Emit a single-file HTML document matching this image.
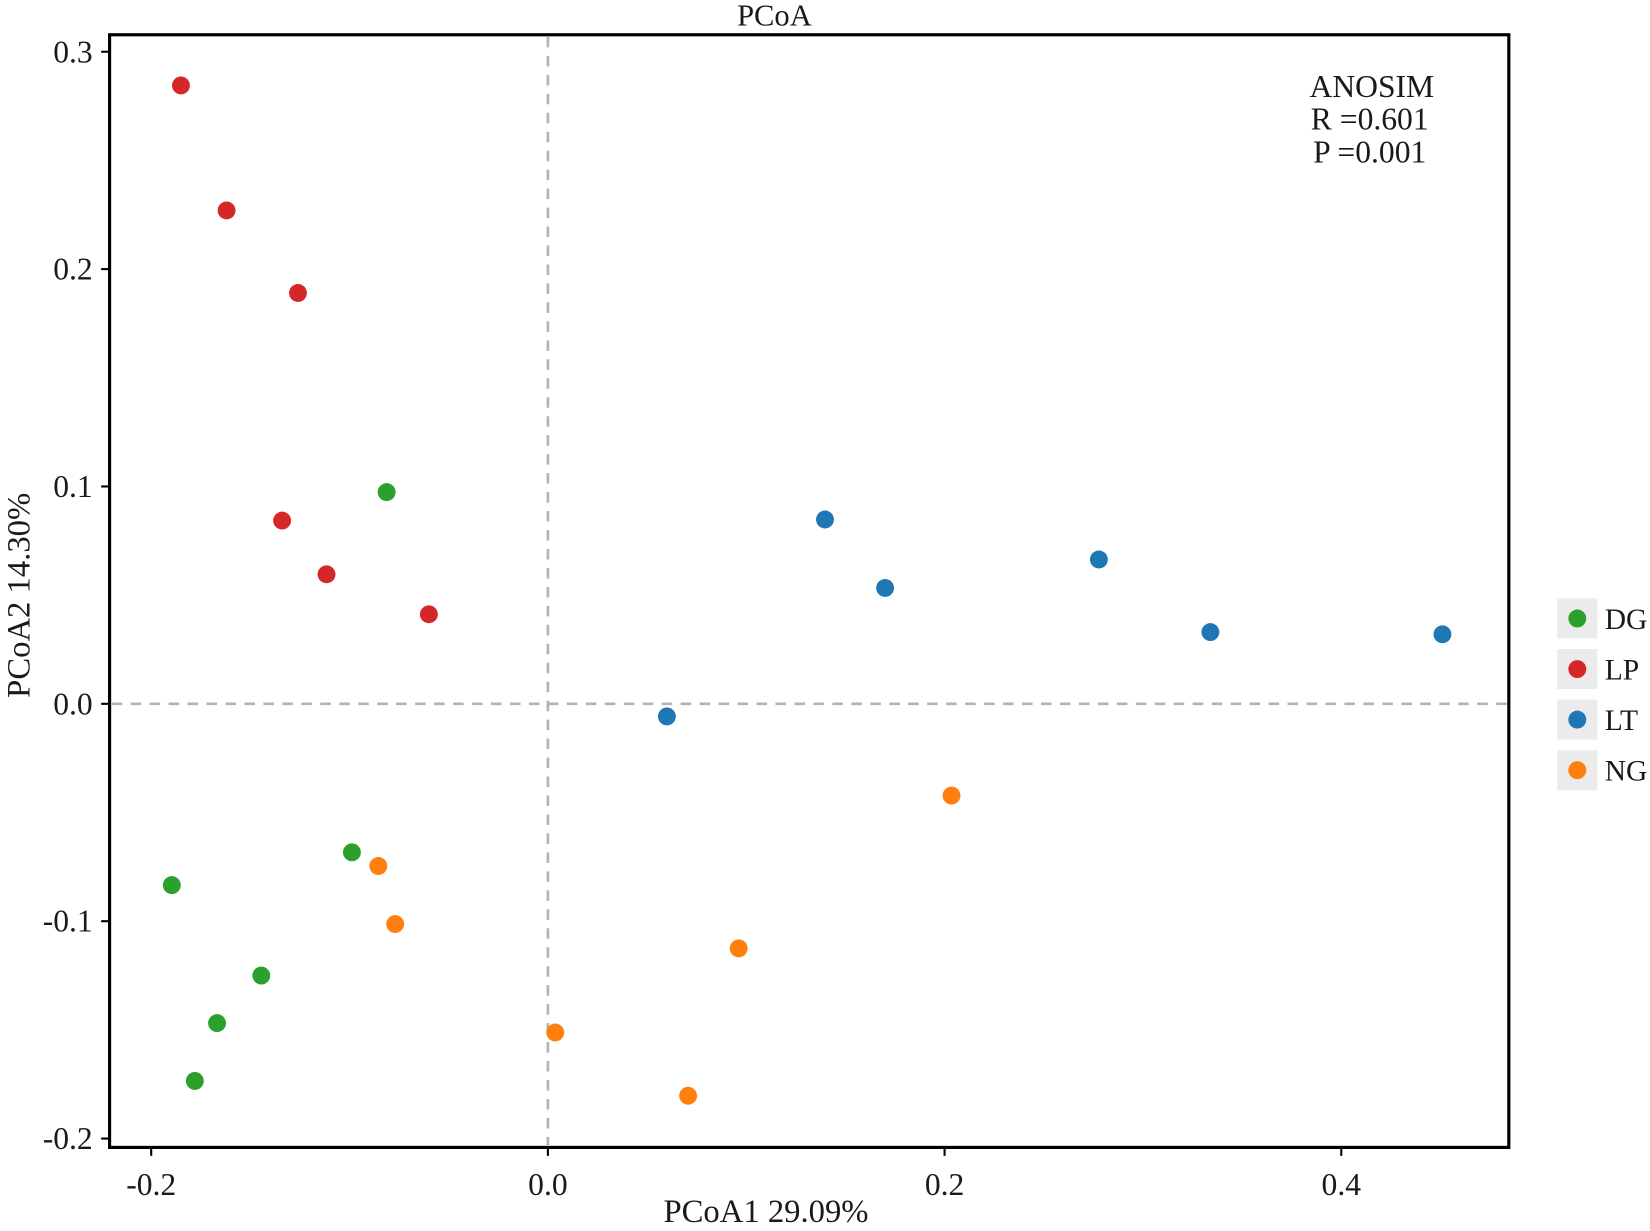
<!DOCTYPE html>
<html><head><meta charset="utf-8"><style>
html,body{margin:0;padding:0;background:#fff;}
svg text{font-family:"Liberation Serif",serif;fill:#1a1a1a;}
</style></head><body>
<svg id="chart" width="1650" height="1226" viewBox="0 0 1650 1226" xmlns="http://www.w3.org/2000/svg">
<g transform="scale(1.05364)">
<g id="grid"></g>
<g id="points"></g>
<rect x="104" y="33" width="1328" height="1056" fill="none" stroke="#000" stroke-width="3"/>
<g id="axes"></g>
<text x="735" y="24" font-size="29" text-anchor="middle">PCoA</text>
<text x="727" y="1160" font-size="31" text-anchor="middle">PCoA1 29.09%</text>
<text transform="translate(28,565) rotate(-90)" font-size="31" text-anchor="middle">PCoA2 14.30%</text>
<g>
<text x="1302" y="92" font-size="30" text-anchor="middle">ANOSIM</text>
<text x="1300" y="123" font-size="30" text-anchor="middle">R =0.601</text>
<text x="1300" y="154" font-size="30" text-anchor="middle">P =0.001</text>
</g>
<g id="legend"></g>
</g>
</svg>
<script>
const groups = ["DG","LP","LT","NG"];
const colors = ["#2ca02c","#d62728","#1f77b4","#ff7f0e"];
const xTicks = [-0.2,0.0,0.2,0.4];
const xTickLabels = ["-0.2","0.0","0.2","0.4"];
const yTicks = [-0.2,-0.1,0.0,0.1,0.2,0.3];
const yTickLabels = ["-0.2","-0.1","0.0","0.1","0.2","0.3"];
const dgX = [-0.0813,-0.1896,-0.0988,-0.1445,-0.1668,-0.178];
const dgY = [0.0974,-0.0834,-0.0683,-0.125,-0.1469,-0.1735];
const lpX = [-0.185,-0.162,-0.126,-0.134,-0.1116,-0.060];
const lpY = [0.2845,0.227,0.189,0.0843,0.0596,0.0412];
const ltX = [0.1397,0.170,0.2778,0.334,0.451,0.060];
const ltY = [0.0848,0.0533,0.0664,0.033,0.032,-0.0058];
const ngX = [-0.0855,-0.077,0.0962,0.2035,0.0037,0.0707];
const ngY = [-0.0746,-0.1013,-0.1125,-0.0422,-0.1512,-0.1803];

const NS="http://www.w3.org/2000/svg";
function sx(v){return 520+v*1882.5;}
function sy(v){return 668-v*2063;}
function mk(tag,attrs,parent){const e=document.createElementNS(NS,tag);for(const k in attrs)e.setAttribute(k,attrs[k]);parent.appendChild(e);return e;}

const grid=document.getElementById('grid');
let l=mk('line',{x1:sx(0),x2:sx(0),y1:35,y2:1087,stroke:'#b3b3b3','stroke-width':2.5,'stroke-dasharray':'10,8'},grid);


l=mk('line',{x1:106,x2:1430,y1:sy(0),y2:sy(0),stroke:'#b3b3b3','stroke-width':2.5,'stroke-dasharray':'10,8'},grid);



const axes=document.getElementById('axes');
xTicks.forEach((v,i)=>{
  const t=mk('line',{x1:sx(v),x2:sx(v),y1:1089,y2:1097,stroke:'#000','stroke-width':2},axes);
  
  
  const tx=mk('text',{x:sx(v),y:1134,'font-size':30,'text-anchor':'middle'},axes);
  tx.textContent=xTickLabels[i];
  
  
});
yTicks.forEach((v,i)=>{
  const t=mk('line',{x1:96,x2:104,y1:sy(v),y2:sy(v),stroke:'#000','stroke-width':2},axes);
  
  
  const tx=mk('text',{x:88,y:sy(v)+10,'font-size':30,'text-anchor':'end'},axes);
  tx.textContent=yTickLabels[i];
  
  
});

const pts=document.getElementById('points');
const series=[[dgX,dgY],[lpX,lpY],[ltX,ltY],[ngX,ngY]];
series.forEach((s,g)=>{
  s[0].forEach((x,i)=>{
    const c=mk('circle',{cx:sx(x),cy:sy(s[1][i]),r:8.5,fill:colors[g]},pts);
    
    
  });
});

const lg=document.getElementById('legend');
groups.forEach((g,i)=>{
  const y=587+i*48;
  const r=mk('rect',{x:1478,y:y-19,width:38,height:38,fill:'#ebebeb'},lg);
  
  
  const c=mk('circle',{cx:1497,cy:y,r:8.5,fill:colors[i]},lg);
  
  
  const t=mk('text',{x:1523,y:y+10,'font-size':28},lg);
  t.textContent=g;
  
  
});
</script>
</body></html>
